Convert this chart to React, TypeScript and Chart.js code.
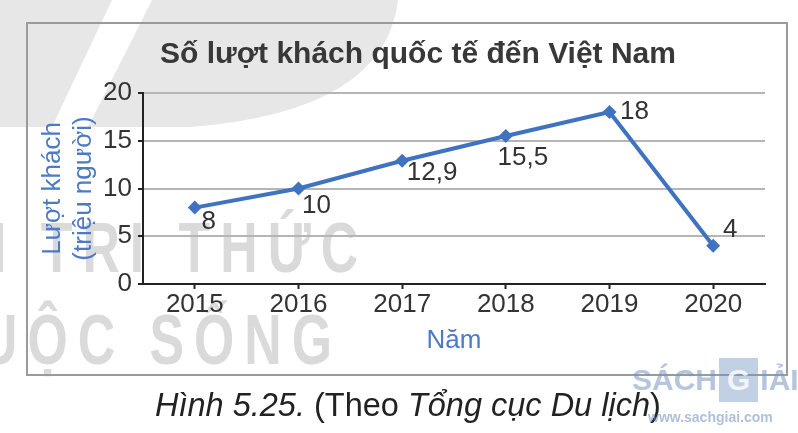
import React, { useEffect, useRef } from 'react';
import { Chart, registerables } from 'chart.js';

Chart.register(...registerables);

const years = ['2015', '2016', '2017', '2018', '2019', '2020'];
const visitors = [8, 10, 12.9, 15.5, 18, 4];
const yMin = 0;
const yMax = 20;
const yStep = 5;
const chartTitle = 'Số lượt khách quốc tế đến Việt Nam';
const yAxisTitle = ['Lượt khách', '(triệu người)'];
const xAxisTitle = 'Năm';
// where each value label sits relative to its point (dx, dy in px)
const labelOffsets = [
  [14, 14],
  [18, 17],
  [30, 12],
  [17, 22],
  [25, 0],
  [17, -16],
];

const FONT = "'Liberation Sans', Arial, Helvetica, sans-serif";
const BLUE = '#4a7bc4';
const LINE = '#3f73bf';
const TEXT = '#333333';

const fmt = (v: number) => String(v).replace('.', ',');

function drawSpaced(ctx: CanvasRenderingContext2D, text: string, x0: number, y: number, sx: number, gap: number) {
  let x = x0;
  for (const ch of Array.from(text)) {
    ctx.save();
    ctx.translate(x, y);
    ctx.scale(sx, 1);
    ctx.fillText(ch, 0, 0);
    ctx.restore();
    x += ctx.measureText(ch).width * sx + gap;
  }
}

const backgroundPlugin = {
  id: 'bgDecor',
  beforeDraw(chart: any) {
    const ctx = chart.ctx as CanvasRenderingContext2D;
    ctx.save();
    // watermark logo (light gray swoosh)
    ctx.fillStyle = '#e7e7e7';
    ctx.beginPath();
    ctx.moveTo(0, 0);
    ctx.lineTo(398, 0);
    ctx.quadraticCurveTo(385, 112, 190, 127);
    ctx.lineTo(0, 127);
    ctx.closePath();
    ctx.fill();
    ctx.fillStyle = '#ffffff';
    ctx.beginPath();
    ctx.moveTo(112, 0);
    ctx.lineTo(152, 0);
    ctx.lineTo(88, 127);
    ctx.lineTo(52, 127);
    ctx.closePath();
    ctx.fill();
    // watermark words
    ctx.fillStyle = '#dadada';
    ctx.font = `bold 70px ${FONT}`;
    ctx.textBaseline = 'alphabetic';
    ctx.textAlign = 'left';
    drawSpaced(ctx, 'I TRI THỨC', -8, 272, 0.74, 10);
    drawSpaced(ctx, 'UỘC SỐNG', -20, 364, 0.74, 10);
    ctx.restore();

    // frame
    ctx.save();
    ctx.strokeStyle = '#9a9a9a';
    ctx.lineWidth = 2;
    ctx.strokeRect(27, 23, 760, 352);
    ctx.restore();
  },
  afterDraw(chart: any) {
    const ctx = chart.ctx as CanvasRenderingContext2D;
    ctx.save();
    ctx.font = `bold 30px ${FONT}`;
    ctx.fillStyle = '#383838';
    ctx.textAlign = 'center';
    ctx.textBaseline = 'middle';
    ctx.fillText(chartTitle, 418, 55);
    ctx.restore();
  },
};

const valueLabelPlugin = {
  id: 'valueLabels',
  afterDatasetsDraw(chart: any) {
    const ctx = chart.ctx as CanvasRenderingContext2D;
    const meta = chart.getDatasetMeta(0);
    ctx.save();
    ctx.font = `26px ${FONT}`;
    ctx.fillStyle = TEXT;
    ctx.textAlign = 'center';
    ctx.textBaseline = 'middle';
    meta.data.forEach((pt: any, i: number) => {
      const [dx, dy] = labelOffsets[i];
      ctx.fillText(fmt(visitors[i]), pt.x + dx, pt.y + dy);
    });
    ctx.restore();
  },
};

export default function App() {
  const ref = useRef<HTMLCanvasElement | null>(null);

  useEffect(() => {
    if (!ref.current) return;
    const chart = new Chart(ref.current, {
      type: 'line',
      data: {
        labels: years,
        datasets: [
          {
            data: visitors,
            borderColor: LINE,
            backgroundColor: LINE,
            borderWidth: 4,
            pointStyle: 'rectRot',
            pointRadius: 7,
            pointBorderWidth: 0,
            pointBackgroundColor: LINE,
            tension: 0,
            fill: false,
          },
        ],
      },
      options: {
        responsive: false,
        animation: false,
        devicePixelRatio: 1,
        layout: { padding: { left: 27, top: 93, right: 33, bottom: 70 } },
        plugins: {
          legend: { display: false },
          title: { display: false },
          tooltip: { enabled: false },
        },
        scales: {
          x: {
            type: 'category',
            offset: true,
            grid: {
              drawOnChartArea: false,
              offset: false,
              tickLength: 5,
              tickColor: '#222',
              tickWidth: 2,
            },
            border: { color: '#222', width: 2 },
            ticks: { padding: 0, color: TEXT, font: { size: 26, family: FONT } },
            title: {
              display: true,
              text: xAxisTitle,
              color: BLUE,
              font: { size: 26, family: FONT },
              padding: { top: 0, bottom: 7 },
            },
            afterFit: (s: any) => {
              s.height = 79;
            },
          },
          y: {
            min: yMin,
            max: yMax,
            ticks: {
              stepSize: yStep,
              padding: 6,
              color: TEXT,
              font: { size: 26, family: FONT },
            },
            grid: {
              color: (c: any) => (c.tick && c.tick.value === 0 ? 'rgba(0,0,0,0)' : '#b5b5b5'),
              lineWidth: 2,
              tickLength: 5,
              tickColor: '#222',
              tickWidth: 2,
            },
            border: { color: '#222', width: 2 },
            title: {
              display: true,
              text: yAxisTitle,
              color: BLUE,
              font: { size: 26, family: FONT, lineHeight: 1.2 },
              padding: { top: 10, bottom: 0 },
            },
            afterFit: (s: any) => {
              s.width = 116;
            },
          },
        },
      },
      plugins: [backgroundPlugin, valueLabelPlugin],
    });
    return () => chart.destroy();
  }, []);

  return (
    <div
      style={{
        position: 'fixed',
        left: 0,
        top: 0,
        width: 798,
        height: 433,
        background: '#ffffff',
        overflow: 'hidden',
        fontFamily: FONT,
      }}
    >
      <canvas
        ref={ref}
        width={798}
        height={433}
        style={{ position: 'absolute', left: 0, top: 0, width: 798, height: 433, display: 'block' }}
      />
      <div
        style={{
          position: 'absolute',
          left: 155,
          top: 389,
          fontSize: 32.5,
          lineHeight: '32px',
          color: '#222',
          whiteSpace: 'nowrap',
        }}
      >
        <i>Hình 5.25.</i> (Theo <i>Tổng cục Du lịch</i>)
      </div>
      <div
        style={{
          position: 'absolute',
          left: 632,
          top: 358,
          fontSize: 30,
          lineHeight: '36px',
          color: 'rgba(120,150,195,0.55)',
          fontWeight: 'bold',
          whiteSpace: 'nowrap',
        }}
      >
        SÁCH
        <span
          style={{
            display: 'inline-block',
            background: 'rgba(120,150,195,0.45)',
            color: 'rgba(255,255,255,0.8)',
            padding: '4px 8px',
            margin: '0 2px',
          }}
        >
          G
        </span>
        IẢI
      </div>
      <div
        style={{
          position: 'absolute',
          left: 648,
          top: 409,
          fontSize: 14,
          lineHeight: '16px',
          fontWeight: 'bold',
          color: 'rgba(120,150,195,0.6)',
          whiteSpace: 'nowrap',
        }}
      >
        www.sachgiai.com
      </div>
    </div>
  );
}
